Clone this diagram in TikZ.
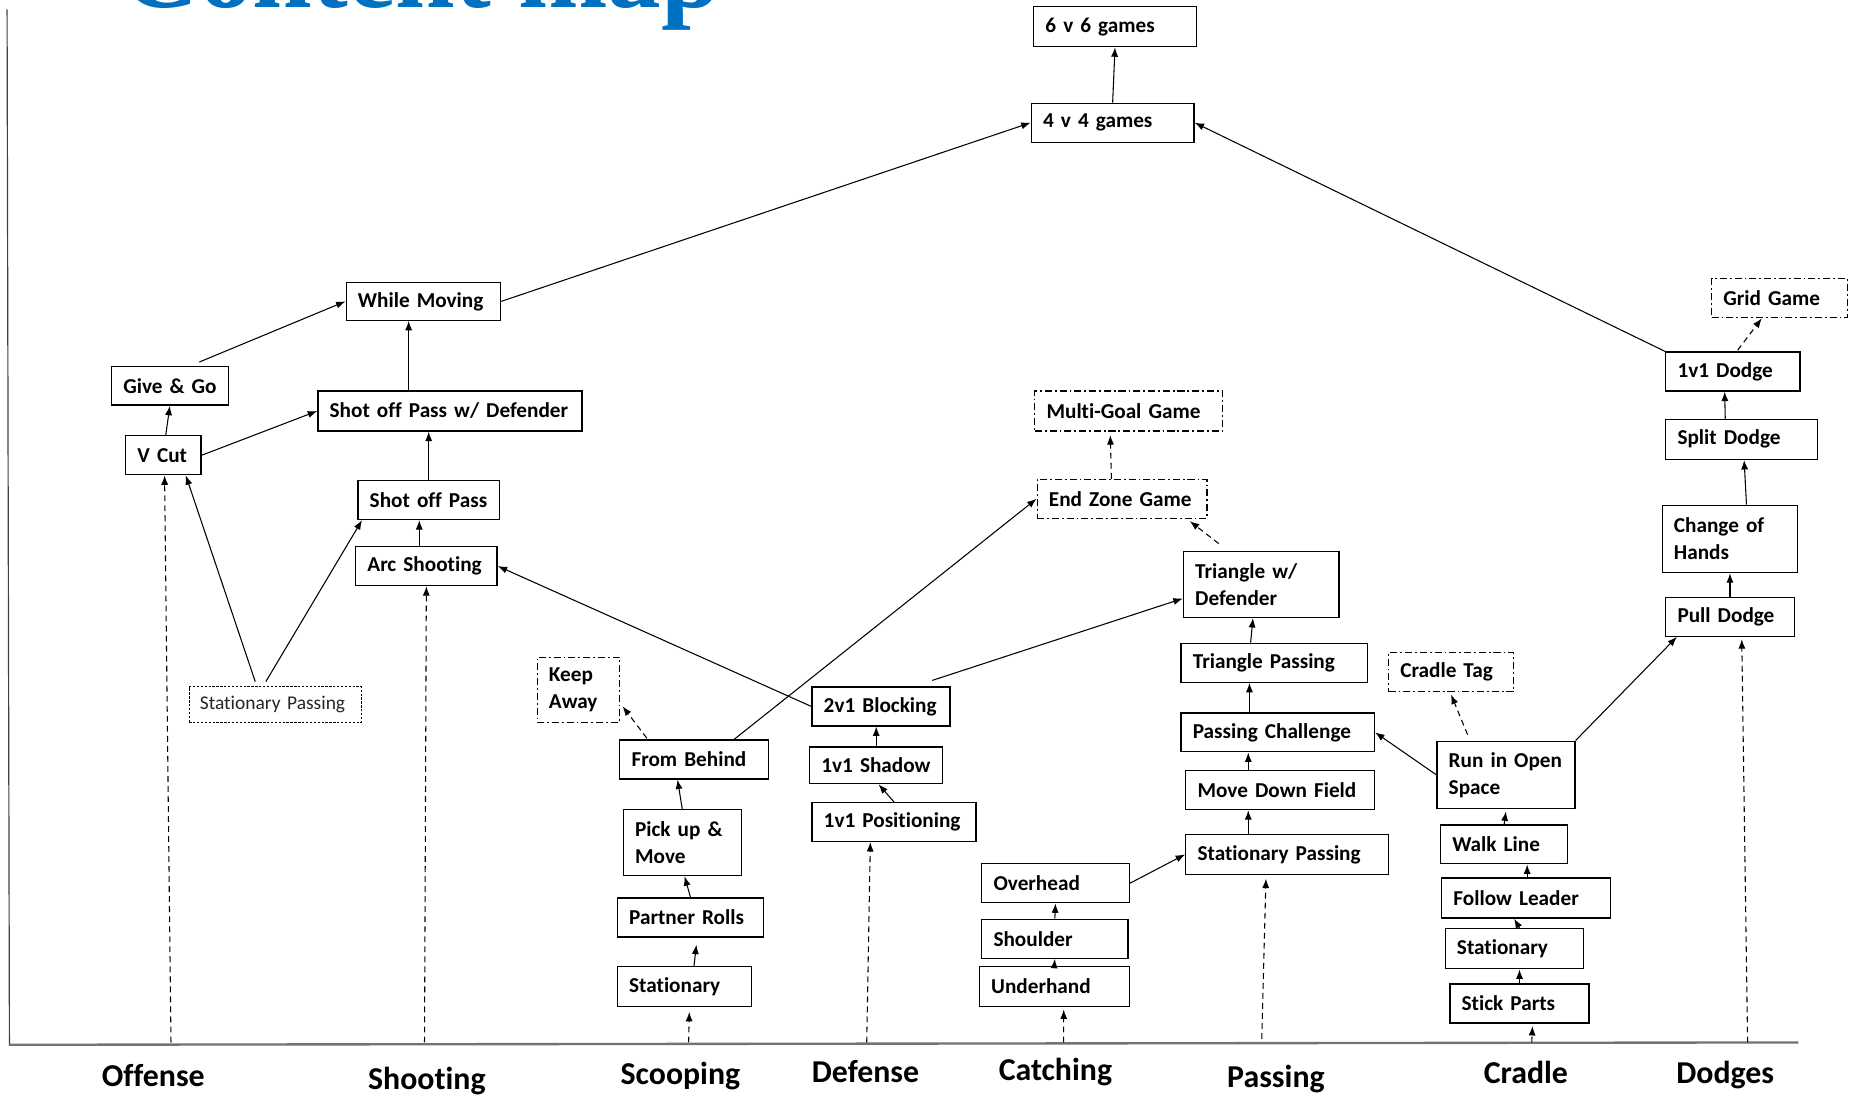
\documentclass[tikz,border=0pt]{standalone}
\usepackage{fontspec}
\setmainfont{Carlito}[Ligatures={NoCommon}]
\newfontfamily\titlefont{Liberation Serif}
\usetikzlibrary{arrows.meta}
\definecolor{titleblue}{HTML}{0070C0}
\tikzset{
  bxs/.style={draw=black, line width=1.1pt, fill=white, text=black,
    font=\bfseries\fontsize{18}{23}\selectfont, inner xsep=10pt, inner ysep=0pt,
    align=left, anchor=north west},
  ddbox/.style={dash pattern=on 6pt off 2.5pt on 1.5pt off 2.5pt, line width=1pt},
  stpbox/.style={dash pattern=on 2pt off 1.3pt, line width=0.9pt, text=black!85,
    font=\fontsize{16.5}{20}\selectfont},
  arr/.style={-{Latex[length=8pt,width=6pt]}, line width=0.9pt, black},
  darr/.style={arr, dash pattern=on 5pt off 3.5pt},
  cat/.style={font=\bfseries\fontsize{27}{30}\selectfont, inner sep=0pt, anchor=base}
}
\newcommand\bx[8][]{%
  \pgfmathsetmacro\bxw{#5-#3-#8}\pgfmathsetmacro\bxh{#6-#4}%
  \node[bxs,#1,text width=\bxw pt,minimum height=\bxh pt] (#2) at (#3,#4) {#7};}
\newcommand\bxx[7][]{\bx[#1]{#2}{#3}{#4}{#5}{#6}{#7}{20}}
\begin{document}
\hyphenpenalty=10000 \exhyphenpenalty=10000
\begin{tikzpicture}[x=1pt,y=-1pt]
\useasboundingbox (0,0) rectangle (1568,929);
\fill[white] (0,0) rectangle (1568,929);
\begin{scope}
\clip (0,0) rectangle (1568,929);
\node[anchor=base west, inner sep=0pt, text=titleblue,
  font=\titlefont\bfseries\fontsize{91}{91}\selectfont] (title) at (103,6) {Content map};
\end{scope}
% axes
\draw[line width=1pt, black!75] (6,8) -- (8,887);
\draw[line width=2pt, black!55] (8,886) -- (1525,884);
% boxes
\bxx{g66}{876}{5}{1014}{39}{6~v~6~games}
\bxx{g44}{874}{87}{1012}{120}{4~v~4~games}
\bxx{wm}{293}{239}{424}{271}{While~Moving}
\bxx{gg}{94}{310}{193}{343}{Give~\&~Go}
\bxx{sopd}{269}{331}{493}{365}{Shot~off~Pass~w/~Defender}
\bxx{vc}{106}{369}{170}{402}{V~Cut}
\bxx{sop}{303}{407}{423}{440}{Shot~off~Pass}
\bxx{arc}{301}{463}{421}{496}{Arc~Shooting}
\bx[stpbox,inner xsep=9pt]{stp}{160}{582}{306}{612}{Stationary~Passing}{18}
\bxx[ddbox]{ka}{455}{557}{525}{612}{Keep\\Away}
\bxx{fb}{525}{627}{651}{660}{From~Behind}
\bxx{pm}{528}{686}{628}{742}{Pick~up~\&\\Move}
\bxx{pr}{523}{761}{647}{794}{Partner~Rolls}
\bxx{sts}{523}{819}{637}{853}{Stationary}
\bxx{b21}{688}{582}{805}{615}{2v1~Blocking}
\bxx{sh}{686}{633}{799}{664}{1v1~Shadow}
\bxx{pos}{688}{680}{827}{713}{1v1~Positioning}
\bxx[ddbox]{mg}{877}{331}{1036}{365}{Multi-Goal~Game}
\bxx[ddbox]{ez}{879}{406}{1023}{439}{End~Zone~Game}
\bxx{tw}{1003}{467}{1135}{523}{Triangle~w/\\Defender}
\bxx{tp}{1001}{545}{1159}{578}{Triangle~Passing}
\bxx{pc}{1001}{604}{1165}{637}{Passing~Challenge}
\bxx{mdf}{1005}{653}{1165}{686}{Move~Down~Field}
\bxx{spp}{1005}{707}{1177}{741}{Stationary~Passing}
\bxx{ovh}{832}{732}{957}{765}{Overhead}
\bxx{sho}{832}{779}{956}{812}{Shoulder}
\bxx{und}{830}{819}{957}{853}{Underhand}
\bxx[ddbox]{ct}{1177}{553}{1283}{586}{Cradle~Tag}
\bxx{rio}{1218}{628}{1335}{685}{Run~in~Open\\Space}
\bxx{wl}{1221}{699}{1329}{732}{Walk~Line}
\bxx{fl}{1222}{744}{1365}{778}{Follow~Leader}
\bxx{stc}{1225}{787}{1342}{821}{Stationary}
\bxx{spt}{1229}{834}{1347}{867}{Stick~Parts}
\bxx[ddbox]{grd}{1451}{236}{1566}{269}{Grid~Game}
\bxx{d11}{1412}{298}{1526}{331}{1v1~Dodge}
\bxx{sd}{1412}{355}{1541}{389}{Split~Dodge}
\bxx{ch}{1409}{428}{1524}{485}{Change~of\\Hands}
\bxx{pd}{1412}{506}{1521}{539}{Pull~Dodge}
% category labels
\node[cat] (lOff) at (130,921) {Offense};
\node[cat] (lSho) at (362,924) {Shooting};
\node[cat] (lSco) at (577,920) {Scooping};
\node[cat] (lDef) at (734,918) {Defense};
\node[cat] (lCat) at (895,916) {Catching};
\node[cat] (lPas) at (1082,922) {Passing};
\node[cat] (lCra) at (1294,919) {Cradle};
\node[cat] (lDod) at (1463,919) {Dodges};
% free ends of category lines
\coordinate (cOff) at (145,884);
\coordinate (cSho) at (360,884);
\coordinate (cSco) at (584,884);
\coordinate (cDef) at (735,884);
\coordinate (cCat) at (902,884);
\coordinate (cPas) at (1070,881);
\coordinate (cCra) at (1299,884);
\coordinate (cDod) at (1482,884);
% solid connectors
\draw[arr] (g44.north) -- (g66.south);
\draw[arr] (wm.east) -- (g44.west);
\draw[arr] (d11.north west) -- (g44.east);
\draw[arr] ([xshift=25pt,yshift=3pt]gg.north) -- (wm.west);
\draw[arr] ([xshift=2pt]vc.north) -- (gg.south);
\draw[arr] (vc.east) -- (sopd.west);
\draw[arr] ([xshift=-35pt]sopd.north) -- ([xshift=-35pt]sopd.north |- wm.south);
\draw[arr] (sop.north) -- (sop.north |- sopd.south);
\draw[arr] ([xshift=-6pt]arc.north) -- ([xshift=-6pt]arc.north |- sop.south);
\draw[arr] ([xshift=-17pt,yshift=4pt]stp.north) -- ([xshift=19pt]vc.south);
\draw[arr] ([xshift=-8pt,yshift=4pt]stp.north) -- ([xshift=4pt]sop.south west);
\draw[arr] (b21.west) -- (arc.east);
\draw[arr] ([xshift=34pt]fb.north) -- (ez.west);
\draw[arr] ([xshift=43.5pt,yshift=5pt]b21.north) -- ([yshift=-12pt]tw.west);
\draw[arr] (pm.north) -- ([xshift=-14pt]fb.south);
\draw[arr] (pr.north) -- ([xshift=2pt]pm.south);
\draw[arr] ([xshift=8pt]sts.north) -- ([xshift=5pt,yshift=-6pt]pr.south);
\draw[arr] (sh.north) -- ([xshift=-4pt]b21.south);
\draw[arr] (pos.north) -- ([xshift=2pt]sh.south);
\draw[arr] (sho.north) -- (ovh.south);
\draw[arr] (und.north) -- (sho.south);
\draw[arr] (ovh.east) -- (spp.west);
\draw[arr] ([xshift=-33pt]spp.north) -- ([xshift=-33pt]spp.north |- mdf.south);
\draw[arr] ([xshift=-27pt]mdf.north) -- ([xshift=-27pt]mdf.north |- pc.south);
\draw[arr] ([xshift=-24pt]pc.north) -- ([xshift=-24pt]pc.north |- tp.south);
\draw[arr] ([xshift=-20pt]tp.north) -- ([xshift=-7pt]tw.south);
\draw[arr] (rio.west) -- (pc.east);
\draw[arr] (rio.north east) -- ([xshift=10pt]pd.south west);
\draw[arr] (wl.north) -- ([yshift=-2pt]rio.south);
\draw[arr] ([xshift=1pt]fl.north) -- ([xshift=1pt]fl.north |- wl.south);
\draw[arr] ([xshift=4.5pt]stc.north) -- (stc.north |- fl.south);
\draw[arr] (spt.north) -- (spt.north |- stc.south);
\draw[arr] (pd.north) -- (ch.south);
\draw[arr] ([xshift=14pt]ch.north) -- ([xshift=2pt]sd.south);
\draw[arr] ([xshift=-14pt]sd.north) -- ([xshift=-7pt]d11.south);
% dashed connectors
\draw[darr] (cOff) -- ([xshift=1pt]vc.south);
\draw[darr] (cSho) -- (arc.south);
\draw[darr] (cSco) -- ([xshift=4pt,yshift=-4pt]sts.south);
\draw[darr] (cDef) -- ([xshift=-20pt]pos.south);
\draw[darr] (cCat) -- ([xshift=8pt,yshift=-2pt]und.south);
\draw[darr] (cPas) -- ([xshift=-18pt,yshift=-3pt]spp.south);
\draw[darr] (cCra) -- ([xshift=11pt,yshift=-2pt]spt.south);
\draw[darr] (cDod) -- ([xshift=10pt,yshift=-2pt]pd.south);
\draw[darr] ([xshift=-40pt,yshift=1pt]fb.north) -- ([xshift=2pt,yshift=14pt]ka.south east);
\draw[darr] ([xshift=-9pt]ez.north) -- ([xshift=-15.5pt,yshift=-3pt]mg.south);
\draw[darr] ([xshift=-36pt,yshift=6pt]tw.north) -- ([xshift=-15pt,yshift=-2pt]ez.south east);
\draw[darr] ([xshift=-32.5pt,yshift=5pt]rio.north) -- ([yshift=-2pt]ct.south);
\draw[darr] ([xshift=4pt,yshift=1pt]d11.north) -- ([xshift=-15pt]grd.south);
\end{tikzpicture}
\end{document}
